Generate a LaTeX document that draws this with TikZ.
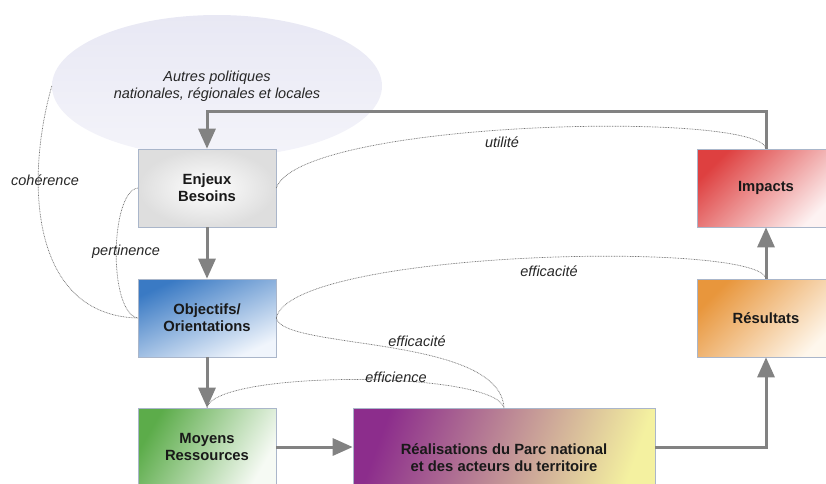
\documentclass[tikz,border=0pt]{standalone}
\usepackage{fontspec}
\setmainfont{Liberation Sans}
\usetikzlibrary{
  calc,positioning,
  arrows,arrows.meta,
  shapes.geometric
}

\definecolor{boxline}{RGB}{170,182,202}
\definecolor{flowgray}{RGB}{130,130,130}
\definecolor{ellA}{RGB}{232,232,244}
\definecolor{ellB}{RGB}{244,244,250}
\definecolor{objA}{RGB}{58,122,196}
\definecolor{objB}{RGB}{240,245,252}
\definecolor{moyA}{RGB}{92,172,74}
\definecolor{moyB}{RGB}{246,250,244}
\definecolor{reaA}{RGB}{140,45,140}
\definecolor{reaM}{RGB}{198,138,150}
\definecolor{reaB}{RGB}{244,241,160}
\definecolor{impA}{RGB}{222,64,64}
\definecolor{impB}{RGB}{253,242,242}
\definecolor{resA}{RGB}{232,150,60}
\definecolor{resB}{RGB}{254,247,236}

\tikzset{
  box/.style={draw=boxline,line width=0.6pt,minimum width=138pt,minimum height=78pt,
    align=center,text=black!90,font=\fontsize{14.8}{17}\selectfont\bfseries},
  flow/.style={draw=flowgray,line width=3pt,-{Triangle[length=20pt,width=17pt]}},
  link/.style={draw=black!55,dash pattern=on 0.8pt off 0.8pt,line width=0.7pt},
  tag/.style={text=black!85,font=\fontsize{14.5}{17}\selectfont\itshape}
}

\begin{document}
\begin{tikzpicture}[x=1pt,y=-1pt]
\useasboundingbox (0,0) rectangle (826,483);

\node[ellipse,minimum width=330pt,minimum height=142pt,top color=ellA,bottom color=ellB,
  tag,align=center] (pol) at (217,86) {Autres politiques\\nationales, régionales et locales};

\node[box,inner color=white,outer color=black!13] (enj) at (207,188) {Enjeux\\Besoins};
\node[box,top color=objA,bottom color=objB,shading angle=25] (obj) at (207,318) {Objectifs/\\Orientations};
\node[box,top color=moyA,bottom color=moyB,shading angle=60] (moy) at (207,447) {Moyens\\Ressources};
\node[box,left color=reaA,middle color=reaM,right color=reaB,shading angle=70,
  minimum width=302pt,minimum height=98pt,anchor=north] (rea) at (504,408)
  {Réalisations du Parc national\\et des acteurs du territoire};
\node[box,top color=impA,bottom color=impB,shading angle=45] (imp) at (766,188) {Impacts};
\node[box,top color=resA,bottom color=resB,shading angle=45] (res) at (766,318) {Résultats};

\draw[flow] (enj) -- (obj);
\draw[flow] (obj) -- (moy);
\draw[flow] (moy.east) -- (moy.east -| rea.west);
\draw[flow] (moy.east -| rea.east) -| (res);
\draw[flow] (res) -- (imp);
\draw[flow] (imp.north) -- ++(0,-37) -| (enj.north);

\draw[link] (pol.west) .. controls (25,180) and (30,315) .. (obj.west);
\draw[link] (enj.west) .. controls (110,192) and (108,312) .. (obj.west);
\draw[link] (enj.east) .. controls (300,120) and (760,110) .. (imp.north);
\draw[link] (obj.east) .. controls (290,250) and (760,240) .. (res.north);
\draw[link] (obj.east) .. controls (282,350) and (500,335) .. (rea.north);
\draw[link] (moy.north) .. controls (215,370) and (495,370) .. (rea.north);

\node[tag] (lcoh) at (45,180) {cohérence};
\node[tag] (lper) at (126,252) {pertinence};
\node[tag] (luti) at (502,142) {utilité};
\node[tag] (leffa) at (549,271) {efficacité};
\node[tag] (leffb) at (417,341) {efficacité};
\node[tag] (lefc) at (396,377) {efficience};
\end{tikzpicture}
\end{document}
